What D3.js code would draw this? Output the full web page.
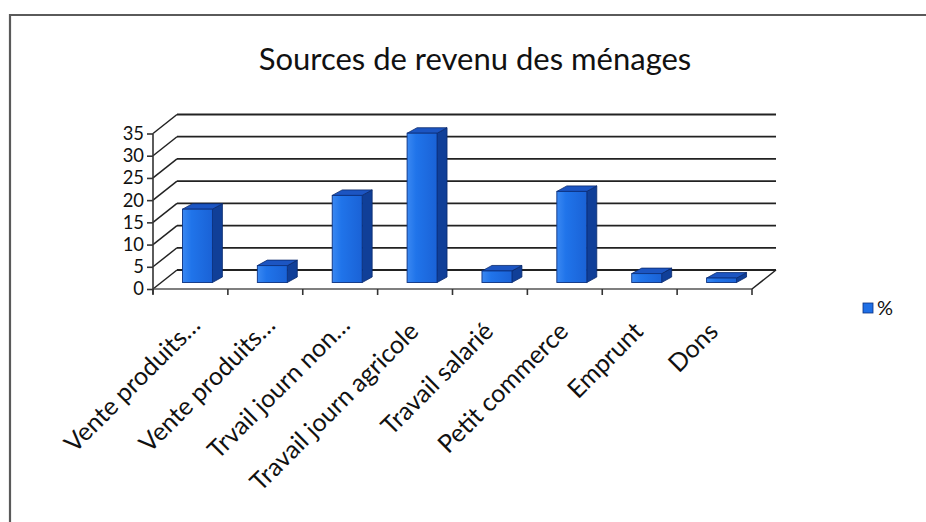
<!DOCTYPE html>
<html>
<head>
<meta charset="utf-8">
<script src="https://cdn.jsdelivr.net/npm/d3@7"></script>
<style>
  html, body { margin: 0; padding: 0; background: #fff; }
  svg { display: block; }
  text { font-family: Lato, "Open Sans", sans-serif; fill: #111; }
</style>
</head>
<body>
<svg id="chart" width="926" height="522"></svg>
<script>
// Household income sources (%)
const categories = [
  "Vente produits…",
  "Vente produits…",
  "Trvail journ non…",
  "Travail journ agricole",
  "Travail salarié",
  "Petit commerce",
  "Emprunt",
  "Dons"
];
const values = [16.5, 3.8, 19.6, 33.6, 2.6, 20.5, 2.0, 1.0];
const yTicks = [0, 5, 10, 15, 20, 25, 30, 35];
const seriesName = "%";
const title = "Sources de revenu des ménages";

const svg = d3.select("#chart");

// Frame lines (top and left edges of the chart area)
svg.append("path")
  .attr("d", "M10,522 L10,15 L926,15")
  .attr("fill", "none")
  .attr("stroke", "#5a5a5a")
  .attr("stroke-width", 2.2);

svg.append("text")
  .attr("x", 475).attr("y", 70)
  .attr("text-anchor", "middle")
  .style("font-size", "31px")
  .text(title);

// Plot geometry: front plane and the oblique depth vector of the floor
const x0 = 153, x1 = 752;
const depth = { dx: 24, dy: -19 };
const keys = categories.map((c, i) => i);

const x = d3.scaleBand().domain(keys).range([x0, x1]).paddingInner(0.6).paddingOuter(0.3);
const y = d3.scaleLinear().domain([0, 35]).range([289, 133.5]);
const edges = d3.scaleLinear().domain([0, categories.length]).range([x0, x1]);

const grid = svg.append("g");
const gridColor = "#222";

// Back wall gridlines
grid.selectAll("line.back")
  .data(yTicks)
  .join("line")
  .attr("x1", x0 + depth.dx).attr("x2", x1 + depth.dx)
  .attr("y1", d => y(d) + depth.dy).attr("y2", d => y(d) + depth.dy)
  .attr("stroke", gridColor).attr("stroke-width", 1.8);

// Side wall gridlines
grid.selectAll("line.side")
  .data(yTicks)
  .join("line")
  .attr("x1", x0).attr("x2", x0 + depth.dx)
  .attr("y1", d => y(d)).attr("y2", d => y(d) + depth.dy)
  .attr("stroke", gridColor).attr("stroke-width", 1.5);

// Floor: front edge and right edge
grid.append("line")
  .attr("x1", x0).attr("x2", x1)
  .attr("y1", y(0)).attr("y2", y(0))
  .attr("stroke", "#555").attr("stroke-width", 1.6);
grid.append("line")
  .attr("x1", x1).attr("x2", x1 + depth.dx)
  .attr("y1", y(0)).attr("y2", y(0) + depth.dy)
  .attr("stroke", gridColor).attr("stroke-width", 1.5);

// Category ticks at the band boundaries
grid.selectAll("line.ctick")
  .data(d3.range(categories.length + 1))
  .join("line")
  .attr("x1", d => edges(d)).attr("x2", d => edges(d))
  .attr("y1", y(0)).attr("y2", y(0) + 6)
  .attr("stroke", "#333").attr("stroke-width", 1.6);

// Value axis
const yAxis = svg.append("g")
  .attr("transform", `translate(${x0},0)`)
  .call(d3.axisLeft(y).tickValues(yTicks).tickSize(6).tickPadding(3));
yAxis.select(".domain").attr("stroke", "#333").attr("stroke-width", 1.6)
  .attr("d", `M0,${y(35)}V${y(0) + 5}`);
yAxis.selectAll(".tick line").attr("stroke", "#333").attr("stroke-width", 1.6);
yAxis.selectAll(".tick text")
  .style("font-size", "18.4px")
  .style("font-family", "Lato, sans-serif")
  .attr("fill", "#111");

// 3D columns
const defs = svg.append("defs");
const grad = defs.append("linearGradient").attr("id", "face").attr("x1", 0).attr("x2", 1).attr("y1", 0).attr("y2", 0);
grad.append("stop").attr("offset", "0%").attr("stop-color", "#3a88f2");
grad.append("stop").attr("offset", "30%").attr("stop-color", "#2074ea");
grad.append("stop").attr("offset", "100%").attr("stop-color", "#1a62d6");

const barOff = { dx: 7, dy: -6.5 };
const barDepth = { dx: 10, dy: -5.5 };

const bars = svg.append("g").selectAll("g.bar")
  .data(values.map((v, i) => ({ v, i })))
  .join("g");

bars.each(function (d) {
  const g = d3.select(this);
  const L = x(d.i) + barOff.dx, R = L + x.bandwidth();
  const B = y(0) + barOff.dy, T = y(d.v) + barOff.dy;
  const ddx = barDepth.dx, ddy = barDepth.dy;
  // side face
  g.append("path")
    .attr("d", `M${R},${B}L${R + ddx},${B + ddy}L${R + ddx},${T + ddy}L${R},${T}Z`)
    .attr("fill", "#103f98").attr("stroke", "#0a2a6c").attr("stroke-width", 0.8);
  // top face
  g.append("path")
    .attr("d", `M${L},${T}L${L + ddx},${T + ddy}L${R + ddx},${T + ddy}L${R},${T}Z`)
    .attr("fill", "#1c55c2").attr("stroke", "#0a2a6c").attr("stroke-width", 0.8);
  // front face
  g.append("rect")
    .attr("x", L).attr("y", T)
    .attr("width", R - L).attr("height", B - T)
    .attr("fill", "url(#face)").attr("stroke", "#0b3180").attr("stroke-width", 0.9);
});

// Category labels, rotated 45°; truncated labels keep a little room past their end
svg.append("g").selectAll("text.cat")
  .data(categories)
  .join("text")
  .attr("transform", (d, i) => `translate(${x(i) + x.bandwidth() / 2 + 5},${y(0) + 44}) rotate(-45)`)
  .attr("x", d => d.endsWith("…") ? 9 : 0)
  .attr("text-anchor", "end")
  .style("font-size", "25px")
  .text(d => d);

// Legend
const legend = svg.append("g").attr("transform", "translate(863,303)");
legend.append("rect").attr("width", 10).attr("height", 10)
  .attr("fill", "#1f6fe6").attr("stroke", "#0b3180").attr("stroke-width", 0.8);
legend.append("text").attr("x", 14).attr("y", 11.5)
  .style("font-size", "20px").text(seriesName);
</script>
</body>
</html>
